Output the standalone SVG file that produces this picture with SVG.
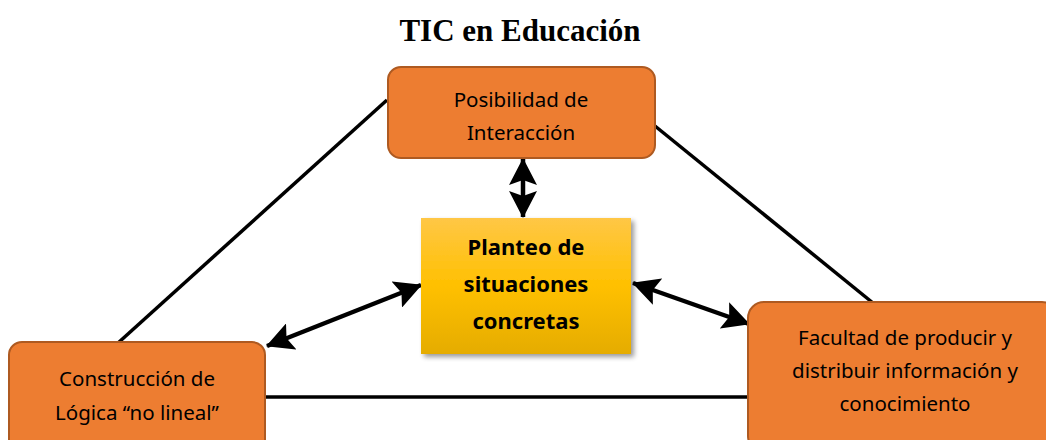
<svg xmlns="http://www.w3.org/2000/svg" width="1046" height="440" viewBox="0 0 1046 440">
<defs>
<style>
.node{fill:#ED7D31;stroke:#AE5A21;stroke-width:2}
.t{font-family:"Noto Sans","Open Sans",sans-serif;font-size:20.5px;fill:#000;text-anchor:middle}
.tb{font-family:"Noto Sans","Open Sans",sans-serif;font-size:22px;font-weight:bold;fill:#000;text-anchor:middle}
.line{stroke:#000;stroke-width:3.5;fill:none}
.arr{stroke:#000;stroke-width:4.5;fill:none;marker-start:url(#ah);marker-end:url(#ah)}
</style>
<marker id="ah" markerUnits="userSpaceOnUse" viewBox="0 0 27 28" refX="26" refY="14" markerWidth="27" markerHeight="28" orient="auto-start-reverse">
<path d="M0,0 L27,14 L0,28 L5,14 Z" fill="#000"/>
</marker>
<linearGradient id="yg" x1="0" y1="0" x2="0" y2="1">
<stop offset="0" stop-color="#FFC746"/>
<stop offset="0.5" stop-color="#FFC000"/>
<stop offset="1" stop-color="#E5AC00"/>
</linearGradient>
<filter id="sh" x="-10%" y="-10%" width="125%" height="125%">
<feGaussianBlur in="SourceAlpha" stdDeviation="2.5"/>
<feOffset dx="3" dy="3"/>
<feComponentTransfer><feFuncA type="linear" slope="0.4"/></feComponentTransfer>
<feMerge><feMergeNode/><feMergeNode in="SourceGraphic"/></feMerge>
</filter>
</defs>
<rect width="1046" height="440" fill="#fff"/>
<text x="520" y="41" font-family="Liberation Serif,serif" font-size="31" font-weight="bold" text-anchor="middle">TIC en Educación</text>
<g id="connectors">
<line class="line" x1="387" y1="100" x2="118" y2="343"/>
<line class="line" x1="655" y1="126" x2="873" y2="303"/>
<line class="line" x1="265" y1="397" x2="748" y2="397"/>
<line class="arr" x1="523" y1="159" x2="523" y2="217"/>
<line class="arr" x1="421" y1="285" x2="267" y2="346"/>
<line class="arr" x1="633" y1="283" x2="749" y2="324"/>
</g>
<g id="n-interaccion">
<rect class="node" x="388" y="67" width="267" height="91" rx="13"/>
<text class="t" x="521" y="107">Posibilidad de</text>
<text class="t" x="521" y="140">Interacción</text>
</g>
<g id="n-planteo">
<rect x="421" y="218" width="210" height="136" fill="url(#yg)" filter="url(#sh)"/>
<text class="tb" x="526" y="255">Planteo de</text>
<text class="tb" x="526" y="292">situaciones</text>
<text class="tb" x="526" y="329">concretas</text>
</g>
<g id="n-construccion">
<rect class="node" x="9" y="342" width="256" height="110" rx="13"/>
<text class="t" x="137" y="386">Construcción de</text>
<text class="t" x="137" y="420">Lógica “no lineal”</text>
</g>
<g id="n-facultad">
<rect class="node" x="748" y="302" width="310" height="150" rx="16"/>
<text class="t" x="905" y="345">Facultad de producir y</text>
<text class="t" x="905" y="378">distribuir información y</text>
<text class="t" x="905" y="411">conocimiento</text>
</g>
</svg>
